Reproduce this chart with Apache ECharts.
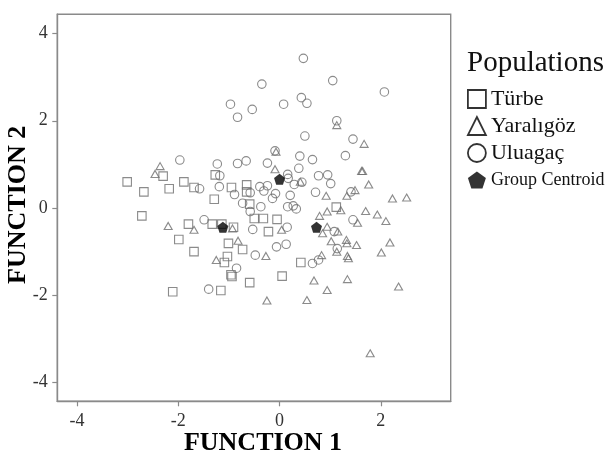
<!DOCTYPE html>
<html>
<head>
<meta charset="utf-8">
<script src="https://cdn.jsdelivr.net/npm/echarts@6/dist/echarts.min.js"></script>
<style>html,body{margin:0;padding:0;background:#fff;}#c{width:614px;height:452px;}</style>
</head>
<body>
<div id="c"></div>
<script>
const xTicks = [-4, -2, 0, 2];
const yTicks = [-4, -2, 0, 2, 4];
const seriesNames = ['Türbe', 'Yaralıgöz', 'Uluagaç', 'Group Centroid'];
const turbe = [[-3.01,0.60],[-2.68,0.37],[-2.30,0.73],[-2.18,0.44],[-1.89,0.60],[-1.69,0.47],[-1.27,0.76],[-1.29,0.20],[-0.95,0.47],[-0.65,0.53],[-0.65,0.37],[-0.59,0.09],[-2.72,-0.18],[-1.80,-0.37],[-1.33,-0.37],[-1.14,-0.37],[-0.91,-0.44],[-0.50,-0.24],[-0.32,-0.24],[-0.05,-0.26],[-0.22,-0.54],[-1.99,-0.72],[-1.01,-0.81],[-0.73,-0.95],[-1.69,-1.00],[-1.03,-1.11],[-1.09,-1.25],[-0.96,-1.53],[-0.94,-1.57],[-0.59,-1.71],[-2.11,-1.92],[-1.16,-1.89],[0.42,-1.25],[0.05,-1.56],[1.12,0.02]];
const yaraligoz = [[1.67,1.47],[1.62,0.85],[1.64,0.85],[1.76,0.54],[2.23,0.22],[2.51,0.24],[-0.09,0.89],[-0.07,1.29],[1.13,1.90],[0.92,0.28],[1.33,0.28],[1.49,0.41],[0.41,0.60],[0.79,-0.18],[0.94,-0.08],[1.21,-0.05],[1.70,-0.07],[1.93,-0.15],[2.10,-0.30],[0.94,-0.43],[1.15,-0.54],[1.54,-0.34],[0.04,-0.50],[0.85,-0.58],[1.02,-0.76],[1.32,-0.73],[1.33,-0.81],[1.52,-0.85],[1.13,-1.00],[1.34,-1.10],[1.36,-1.15],[0.83,-1.08],[-0.27,-1.10],[2.18,-0.79],[2.01,-1.02],[0.68,-1.66],[1.34,-1.63],[2.35,-1.80],[0.94,-1.88],[-0.25,-2.12],[0.54,-2.11],[1.79,-3.33],[-2.20,-0.41],[-1.69,-0.50],[-0.93,-0.47],[-0.82,-0.75],[-1.25,-1.19],[-2.36,0.96],[-2.46,0.78]];
const uluagac = [[0.47,3.43],[-0.35,2.84],[1.05,2.92],[2.07,2.66],[-0.97,2.38],[-0.54,2.26],[-0.83,2.08],[0.08,2.38],[0.43,2.53],[0.54,2.40],[1.13,2.00],[0.50,1.65],[1.45,1.58],[1.30,1.20],[-0.09,1.31],[0.40,1.19],[0.65,1.11],[-1.97,1.10],[-1.23,1.01],[-0.83,1.02],[-0.66,1.08],[-0.24,1.03],[0.38,0.91],[0.16,0.77],[0.77,0.74],[0.95,0.76],[1.01,0.56],[-1.18,0.74],[-1.19,0.49],[-1.58,0.44],[-0.89,0.31],[-0.58,0.35],[-0.39,0.49],[-0.31,0.39],[-0.24,0.51],[-0.08,0.33],[-0.14,0.22],[0.21,0.29],[0.29,0.54],[0.44,0.59],[0.71,0.36],[1.41,0.37],[-0.73,0.11],[-0.37,0.03],[-0.58,-0.08],[0.16,0.03],[0.27,0.05],[0.33,-0.02],[-1.49,-0.27],[-0.53,-0.49],[0.15,-0.44],[1.45,-0.27],[1.08,-0.54],[-0.06,-0.89],[0.13,-0.83],[-0.48,-1.08],[-0.85,-1.38],[0.65,-1.27],[0.77,-1.19],[1.14,-0.93],[-1.40,-1.86],[0.17,0.68]];
const centroids = [[0.00,0.66],[-1.12,-0.44],[0.73,-0.44]];

const pentagon = 'path://M0,-10 L9.51,-3.09 L5.88,8.09 L-5.88,8.09 L-9.51,-3.09 Z';
const serif = '"Liberation Serif", "Times New Roman", serif';
const gray = '#6e6e6e';
const frame = '#8a8a8a';

const chart = echarts.init(document.getElementById('c'), null, {renderer: 'canvas'});
const hollow = {color: 'transparent', borderColor: gray, borderWidth: 1.1};
chart.setOption({
  animation: false,
  backgroundColor: '#fff',
  title: {
    text: 'Populations', left: 467, top: 49, padding: 0,
    textStyle: {fontFamily: serif, fontSize: 29, fontWeight: 'normal', color: '#111'}
  },
  legend: {
    orient: 'vertical', left: 467, top: 88, padding: 0,
    itemWidth: 18, itemHeight: 18, itemGap: 5,
    data: [
      {name: seriesNames[0], icon: 'rect', itemStyle: {color: 'transparent', borderColor: '#000', borderWidth: 1.8}},
      {name: seriesNames[1], icon: 'triangle', itemStyle: {color: 'transparent', borderColor: '#000', borderWidth: 1.8}},
      {name: seriesNames[2], icon: 'circle', itemStyle: {color: 'transparent', borderColor: '#000', borderWidth: 1.8}},
      {name: seriesNames[3], icon: pentagon, itemStyle: {color: '#000', borderWidth: 0}}
    ],
    formatter: function (n) { return n === 'Group Centroid' ? '{s|' + n + '}' : n; },
    textStyle: {fontFamily: serif, fontSize: 22, color: '#111', lineHeight: 22,
      rich: {s: {fontFamily: serif, fontSize: 18, color: '#111', lineHeight: 22}}}
  },
  grid: {left: 57.3, top: 14.3, right: 163.3, bottom: 50.7, show: true, borderColor: frame, borderWidth: 1.4, backgroundColor: '#fff', containLabel: false, outerBoundsMode: 'none'},
  xAxis: {
    type: 'value', min: -4.39, max: 3.38,
    name: 'FUNCTION 1', nameLocation: 'middle', nameGap: 29, nameMoveOverlap: false,
    nameTextStyle: {fontFamily: serif, fontSize: 26, fontWeight: 'bold', color: '#000', padding: [0, 0, 0, 18]},
    axisLine: {show: true, onZero: false, lineStyle: {color: frame, width: 1.4}},
    axisTick: {show: true, inside: false, length: 5, customValues: xTicks, lineStyle: {color: frame, width: 1.2}},
    axisLabel: {customValues: xTicks, margin: 11, fontFamily: serif, fontSize: 18, color: '#333'},
    splitLine: {show: false}
  },
  yAxis: {
    type: 'value', min: -4.43, max: 4.44,
    name: 'FUNCTION 2', nameLocation: 'middle', nameGap: 26, nameRotate: 90, nameMoveOverlap: false,
    nameTextStyle: {fontFamily: serif, fontSize: 26, fontWeight: 'bold', color: '#000', padding: [0, 0, 0, 6]},
    axisLine: {show: true, onZero: false, lineStyle: {color: frame, width: 1.4}},
    axisTick: {show: true, inside: false, length: 5, customValues: yTicks, lineStyle: {color: frame, width: 1.2}},
    axisLabel: {customValues: yTicks, margin: 9.5, fontFamily: serif, fontSize: 18, color: '#333'},
    splitLine: {show: false}
  },
  series: [
    {name: seriesNames[0], type: 'scatter', data: turbe, symbol: 'rect', symbolSize: 8.5, itemStyle: hollow, z: 2},
    {name: seriesNames[1], type: 'scatter', data: yaraligoz, symbol: 'triangle', symbolSize: [8, 7], itemStyle: hollow, z: 2},
    {name: seriesNames[2], type: 'scatter', data: uluagac, symbol: 'circle', symbolSize: 8.5, itemStyle: hollow, z: 2},
    {name: seriesNames[3], type: 'scatter', data: centroids, symbol: pentagon, symbolSize: 11, itemStyle: {color: '#000'}, z: 5}
  ]
});
</script>
</body>
</html>
